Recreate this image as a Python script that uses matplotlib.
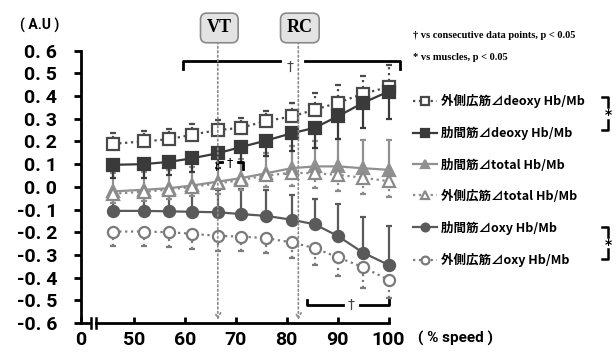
import matplotlib.pyplot as plt
from matplotlib.lines import Line2D
import numpy as np

# % speed
speed = [46, 52, 57, 61.5, 66.5, 71, 76, 81, 85.5, 90, 95, 100]

# values (A.U)
vl_deoxy = [0.19, 0.20, 0.21, 0.23, 0.25, 0.26, 0.29, 0.31, 0.34, 0.37, 0.41, 0.44]
ic_deoxy = [0.097, 0.10, 0.11, 0.126, 0.148, 0.175, 0.204, 0.236, 0.26, 0.31, 0.37, 0.42]
ic_total = [-0.02, -0.013, -0.006, 0.006, 0.023, 0.038, 0.06, 0.082, 0.09, 0.09, 0.082, 0.075]
vl_total = [-0.03, -0.022, -0.012, 0.0, 0.015, 0.03, 0.05, 0.062, 0.06, 0.053, 0.04, 0.025]
ic_oxy = [-0.106, -0.106, -0.108, -0.11, -0.112, -0.12, -0.128, -0.145, -0.165, -0.216, -0.29, -0.344]
vl_oxy = [-0.197, -0.197, -0.2, -0.207, -0.216, -0.219, -0.226, -0.245, -0.27, -0.31, -0.354, -0.41]

# one sided SDs
vl_deoxy_up = [0.045, 0.045, 0.045, 0.045, 0.045, 0.045, 0.045, 0.06, 0.075, 0.08, 0.08, 0.095]
ic_deoxy_dn = [0.06, 0.06, 0.06, 0.06, 0.065, 0.07, 0.07, 0.08, 0.09, 0.10, 0.11, 0.12]
ic_total_up = [0.08, 0.08, 0.08, 0.08, 0.08, 0.085, 0.09, 0.10, 0.11, 0.12, 0.125, 0.13]
vl_total_dn = [0.04, 0.04, 0.04, 0.04, 0.045, 0.045, 0.05, 0.06, 0.065, 0.07, 0.07, 0.07]
ic_oxy_up = [0.09, 0.09, 0.09, 0.095, 0.10, 0.11, 0.115, 0.11, 0.11, 0.14, 0.156, 0.17]
vl_oxy_dn = [0.065, 0.065, 0.065, 0.065, 0.065, 0.065, 0.065, 0.07, 0.075, 0.085, 0.09, 0.08]

labels = ['外側広筋⊿deoxy Hb/Mb', '肋間筋⊿deoxy Hb/Mb', '肋間筋⊿total Hb/Mb',
          '外側広筋⊿total Hb/Mb', '肋間筋⊿oxy Hb/Mb', '外側広筋⊿oxy Hb/Mb']

yticks = [0.6, 0.5, 0.4, 0.3, 0.2, 0.1, 0.0, -0.1, -0.2, -0.3, -0.4, -0.5, -0.6]
ytick_labels = ['0. 6', '0. 5', '0. 4', '0. 3', '0. 2', '0. 1', '0. 0',
                '-0. 1', '-0. 2', '-0. 3', '-0. 4', '-0. 5', '-0. 6']
xticks = [39.6, 50, 60, 70, 80, 90, 100]
xtick_labels = ['0', '50', '60', '70', '80', '90', '100']

VT, RC = 66.5, 82.3

sans = ['Roboto', 'DejaVu Sans']
cjk = ['Noto Sans CJK JP', 'DejaVu Sans']
serif = ['Liberation Serif', 'DejaVu Serif']
tickfont = dict(family=sans, fontweight='bold', fontsize=14)

fig = plt.figure(figsize=(6.16, 3.56), dpi=100)
ax = fig.add_axes([0.131, 0.0927, 0.508, 0.765])
ax.set_xlim(39.6, 101)
ax.set_ylim(-0.6, 0.6)

zeros = np.zeros(len(speed))

def series(y, err, color, marker, ls, face, lower):
    yerr = [err, zeros] if lower else [zeros, err]
    eb = ax.errorbar(speed, y, yerr=yerr, color=color, ecolor=color, linestyle=ls,
                     lw=1.6, marker=marker, ms=8, mfc=face, mec=color, mew=1.6,
                     elinewidth=1.6, capsize=2.5, capthick=1.6, clip_on=False)
    if ls != '-':
        eb[2][0].set_linestyle(':')
    return eb[0]

h1 = series(vl_deoxy, vl_deoxy_up, '#4a4a4a', 's', ':', 'white', False)
h5 = series(ic_oxy, ic_oxy_up, '#5a5a5a', 'o', '-', '#5a5a5a', False)
h3 = series(ic_total, ic_total_up, '#909090', '^', '-', '#909090', False)
h4 = series(vl_total, vl_total_dn, '#8a8a8a', '^', ':', 'white', True)
h2 = series(ic_deoxy, ic_deoxy_dn, '#3a3a3a', 's', '-', '#3a3a3a', True)
h6 = series(vl_oxy, vl_oxy_dn, '#7a7a7a', 'o', ':', 'white', True)

# axes styling
for s in ['top', 'right', 'bottom']:
    ax.spines[s].set_visible(False)
ax.spines['left'].set_linewidth(2)
ax.spines['left'].set_bounds(-0.6, 0.6)
ax.set_yticks(yticks)
ax.set_yticklabels(ytick_labels, **tickfont)
ax.set_xticks(xticks)
ax.set_xticklabels(xtick_labels, **tickfont)
ax.tick_params(axis='y', direction='out', length=5, width=2, pad=12)
ax.tick_params(axis='x', direction='in', length=4, width=2, pad=6)

# broken x axis
ax.plot([39.6, 41.2], [-0.6, -0.6], color='black', lw=2, clip_on=False)
ax.plot([42.6, 100], [-0.6, -0.6], color='black', lw=2, clip_on=False)
for bx in [41.6, 42.6]:
    ax.plot([bx, bx], [-0.62, -0.58], color='black', lw=1.8, clip_on=False)

# VT / RC markers
for xv, name in [(VT, 'VT'), (RC, 'RC')]:
    ax.annotate('', xy=(xv, -0.6), xytext=(xv, 0.65),
                arrowprops=dict(arrowstyle='->', color='#8a8a8a', lw=1.2, ls=':'),
                annotation_clip=False)
    ax.text(xv + 0.3, 0.7, name, ha='center', va='center', family=serif,
            fontweight='bold', fontsize=13,
            bbox=dict(boxstyle='round,pad=0.35', fc='#e3e3e3', ec='#8a8a8a', lw=1.2),
            clip_on=False)

# significance brackets
blk = dict(color='black', lw=2, clip_on=False)
ax.plot([59.7, 59.7, 78.7], [0.52, 0.555, 0.555], **blk)
ax.plot([83.7, 102.3, 102.3], [0.555, 0.555, 0.52], **blk)
ax.text(80.7, 0.53, '†', ha='center', va='center', fontsize=10, color='#444')

ax.plot([84, 84, 91.1], [-0.5, -0.52, -0.52], **blk)
ax.plot([94.4, 100, 100], [-0.52, -0.52, -0.5], **blk)
ax.text(92.7, -0.52, '†', ha='center', va='center', fontsize=10, color='#444')

ax.plot([66.3, 66.3, 67.3], [0.08, 0.11, 0.11], **blk)
ax.plot([70.4, 71.4, 71.4], [0.11, 0.11, 0.08], **blk)
ax.text(68.8, 0.105, '†', ha='center', va='center', fontsize=9, color='black')

# axis captions
fig.text(40 / 616, 1 - 25 / 356, '( A.U )', ha='center', va='center',
         family=sans, fontweight='bold', fontsize=10)
fig.text(456 / 616, 1 - 338 / 356, '( % speed )', ha='center', va='center',
         family=sans, fontweight='bold', fontsize=11)

fig.text(413 / 616, 1 - 35 / 356, '† vs consecutive data points, p < 0.05',
         family=serif, fontweight='bold', fontsize=7.5, va='center')
fig.text(413 / 616, 1 - 57 / 356, '* vs muscles, p < 0.05',
         family=serif, fontweight='bold', fontsize=7.5, va='center')

# legend
leg = ax.legend([h1, h2, h3, h4, h5, h6], labels, loc='upper left',
                bbox_to_anchor=(402 / 616, 1 - 83 / 356), bbox_transform=fig.transFigure,
                frameon=False, handlelength=1.9, handletextpad=0.3, labelspacing=1.45,
                prop=dict(family=cjk, weight='bold', size=9), markerscale=0.7)

# brackets next to legend
for y0, y1 in [(97, 130), (227, 259)]:
    ym = (y0 + y1) / 2
    fig.add_artist(Line2D([602 / 616, 608 / 616, 608 / 616],
                          [1 - y0 / 356, 1 - y0 / 356, 1 - (ym - 6) / 356],
                          color='black', lw=1.8))
    fig.add_artist(Line2D([608 / 616, 608 / 616, 602 / 616],
                          [1 - (ym + 6) / 356, 1 - y1 / 356, 1 - y1 / 356],
                          color='black', lw=1.8))
    fig.text(608 / 616, 1 - (ym + 2) / 356, '*', ha='center', va='center', fontsize=10,
             fontweight='bold')

fig.savefig('out.png', dpi=100)
